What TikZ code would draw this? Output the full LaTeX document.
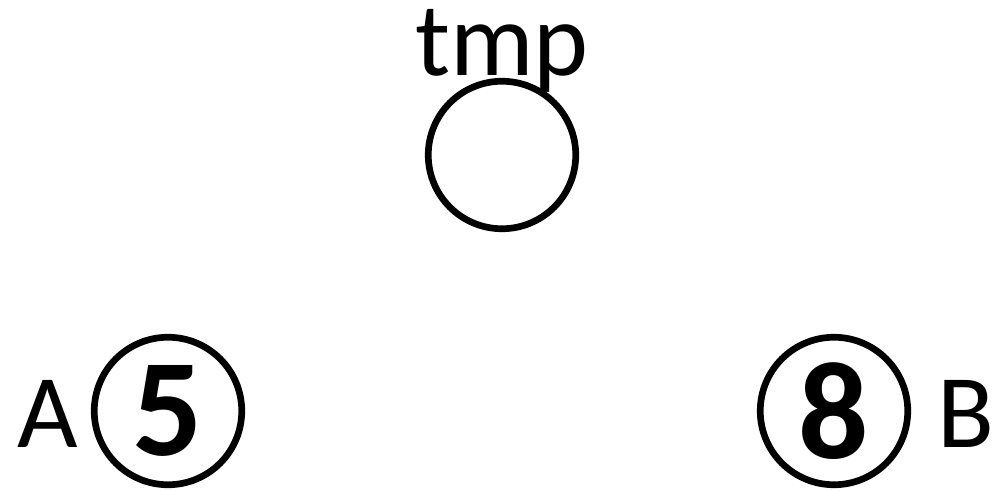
\documentclass[tikz,border=0pt]{standalone}
\usepackage{fontspec}
\setmainfont{Carlito}
\usepackage{tikz}

\begin{document}
\begin{tikzpicture}[ring/.style={circle, draw, line width=3.8pt, inner sep=0pt, minimum size=2.95cm,
        font=\bfseries\fontsize{79}{90}\selectfont},
    txt/.style={anchor=base, inner sep=0pt, font=\fontsize{59.5}{70}\selectfont}]
    \useasboundingbox (0, 0) rectangle (20, -9.82);
    \node[ring] (T) at (10.04, -3.10) {};
    \node[ring] (N5) at (3.36, -8.22) {5};
    \node[ring] (N8) at (16.68, -8.22) {8};
    \node[txt] (tmp) at (10.04, -1.52) {tmp};
    \node[txt] (A) at (0.95, -8.94) {A};
    \node[txt] (B) at (19.31, -8.94) {B};
\end{tikzpicture}
\end{document}
